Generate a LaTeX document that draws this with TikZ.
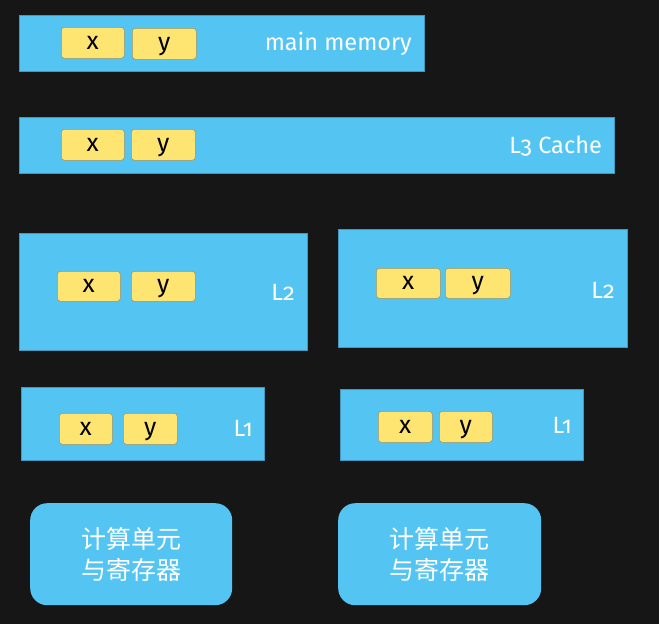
\documentclass[tikz,border=0pt]{standalone}
\usepackage{fontspec}
\setmainfont{Fira Sans}[Numbers=OldStyle]
\newfontfamily\cjk{Noto Sans CJK SC}
\definecolor{bg}{RGB}{22,22,22}
\definecolor{cblue}{RGB}{84,197,243}
\definecolor{cblueedge}{RGB}{70,150,190}
\definecolor{cyel}{RGB}{254,228,112}
\definecolor{cyeledge}{RGB}{160,150,100}
\tikzset{
  bluebox/.style={fill=cblue, draw=cblueedge, line width=0.6pt, anchor=north west, inner sep=0pt},
  ybox/.style={fill=cyel, draw=cyeledge, line width=0.6pt, rounded corners=3pt, anchor=north west, inner sep=0pt, font=\fontsize{25}{25}\selectfont, text=black, text height=12.5pt, text depth=0pt},
  lbl/.style={text=white, anchor=east, inner sep=0pt, font=\fontsize{23.5}{23.5}\selectfont},
  cpu/.style={fill=cblue, rounded corners=17pt, anchor=north west, inner sep=0pt, text=white, align=center, font=\cjk\fontsize{25}{31}\selectfont},
}
\begin{document}
\begin{tikzpicture}[x=1pt,y=-1pt]
\fill[bg] (0,0) rectangle (659,624);
\useasboundingbox (0,0) rectangle (659,624);
% main memory
\node[bluebox, minimum width=405pt, minimum height=56pt] (mm) at (19,15) {};
\node[ybox, minimum width=63pt, minimum height=31pt] (mmx) at (61,27) {x};
\node[ybox, minimum width=64pt, minimum height=31pt] (mmy) at (132,28) {y};
\node[lbl] (mmt) at (412,44) {main memory};
% L3
\node[bluebox, minimum width=595pt, minimum height=56pt] (l3) at (19,117) {};
\node[ybox, minimum width=63pt, minimum height=31pt] (l3x) at (61,129) {x};
\node[ybox, minimum width=64pt, minimum height=31pt] (l3y) at (131,129) {y};
\node[lbl] (l3t) at (602,146) {L3 Cache};
% L2 left
\node[bluebox, minimum width=288pt, minimum height=117pt] (l2a) at (19,233) {};
\node[ybox, minimum width=63pt, minimum height=30pt] (l2ax) at (57,271) {x};
\node[ybox, minimum width=64pt, minimum height=30pt] (l2ay) at (131,271) {y};
\node[lbl] (l2at) at (295,292) {L2};
% L2 right
\node[bluebox, minimum width=289pt, minimum height=118pt] (l2b) at (338,229) {};
\node[ybox, minimum width=64pt, minimum height=30pt] (l2bx) at (376,268) {x};
\node[ybox, minimum width=65pt, minimum height=30pt] (l2by) at (445,268) {y};
\node[lbl] (l2bt) at (615,290) {L2};
% L1 left
\node[bluebox, minimum width=243pt, minimum height=73pt] (l1a) at (21,387) {};
\node[ybox, minimum width=53pt, minimum height=31pt] (l1ax) at (59,413) {x};
\node[ybox, minimum width=54pt, minimum height=31pt] (l1ay) at (123,413) {y};
\node[lbl] (l1at) at (253,428) {L1};
% L1 right
\node[bluebox, minimum width=243pt, minimum height=71pt] (l1b) at (340,389) {};
\node[ybox, minimum width=54pt, minimum height=31pt] (l1bx) at (378,411) {x};
\node[ybox, minimum width=53pt, minimum height=31pt] (l1by) at (439,411) {y};
\node[lbl] (l1bt) at (572,425) {L1};
% compute units
\node[cpu, minimum width=202pt, minimum height=102pt] (cpua) at (30,503) {计算单元\\与寄存器};
\node[cpu, minimum width=203pt, minimum height=102pt] (cpub) at (338,503) {计算单元\\与寄存器};
\end{tikzpicture}
\end{document}
